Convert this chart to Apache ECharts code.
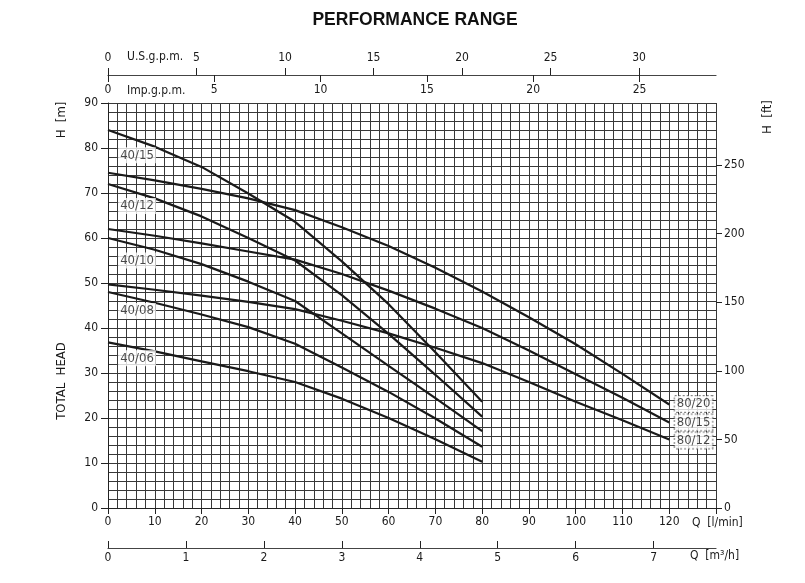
<!DOCTYPE html>
<html><head><meta charset="utf-8">
<script src="https://cdn.jsdelivr.net/npm/echarts@6/dist/echarts.min.js"></script>
<style>html,body{margin:0;padding:0;background:#fff}#c{width:805px;height:583px}</style>
</head><body><div id="c"></div>
<script>
// Flow rates (l/min) at which heads are read
const flowLmin = [0,10,20,30,40,50,60,70,80,90,100,110,120];
// Head (m) for each pump model
const h40_15 = [84,80.3,75.8,69.9,63.6,54.8,45.3,34.6,23.6];
const h40_12 = [72,68.8,64.8,60,55,47.3,38.7,29.6,20.3];
const h40_10 = [60,57.4,54.2,50.3,46,38.8,31.6,24.4,17.1];
const h40_08 = [48,45.6,43,40.2,36.5,31.2,25.8,19.9,13.6];
const h40_06 = [36.8,34.8,32.6,30.4,28,24.3,20,15.3,10.3];
const h80_20 = [74.5,72.8,70.9,68.8,66.2,62.4,58.2,53.4,48.1,42.4,36.4,29.8,23];
const h80_15 = [62,60.5,58.8,57,55.2,52,48.3,44.3,40,35,29.7,24.5,19];
const h80_12 = [49.7,48.5,47.2,45.8,44.2,41.6,38.8,35.6,32.2,28,23.6,19.5,15.2];
const modelNames = ['40/15','40/12','40/10','40/08','40/06','80/20','80/15','80/12'];
const modelHeads = [h40_15,h40_12,h40_10,h40_08,h40_06,h80_20,h80_15,h80_12];
// Curve label anchors [Q l/min, H m]
const labelQ40 = 6.2;
const labelH40 = [78.4,67.1,55,43.8,33.3];
const labelQ80 = 125.2;
const labelH80 = [23.1,19,15];
// Axis ranges
const qMax = 130, hMax = 90;
const lpmPerUSgpm = 3.78541, lpmPerImpgpm = 4.54609, lpmPerM3h = 1000/60, mPerFt = 0.3048;

const FONT = "'Liberation Sans Narrow','DejaVu Sans Condensed','Liberation Sans',sans-serif";
const gridLine = {color:'#383838', width:1};
const txt = {fontFamily:FONT, fontSize:12, color:'#1a1a1a'};

const chart = echarts.init(document.getElementById('c'), null, {renderer:'canvas'});

const lineSeries = modelNames.map((name, k) => ({
  name, type:'line', xAxisIndex:0, yAxisIndex:0, symbol:'none', smooth:false,
  lineStyle:{color:'#1a1a1a', width:2.2}, z:3, silent:true,
  data: modelHeads[k].map((h,i) => [flowLmin[i], h])
}));

const labelData40 = labelH40.map((h,i) => [labelQ40, h, modelNames[i]]);
const labelData80 = labelH80.map((h,i) => [labelQ80, h, modelNames[5+i]]);

chart.setOption({
  animation:false,
  grid:{left:108, top:103, width:608, height:405, containLabel:false, outerBoundsMode:'none'},
  xAxis:[
    {type:'value', min:0, max:qMax, interval:10, position:'bottom',
     axisLine:{show:true, onZero:false, lineStyle:{color:'#222', width:1}},
     axisTick:{show:true, length:6, lineStyle:{color:'#222'}},
     axisLabel:{...txt, margin:8, formatter:v => v>120 ? '' : String(v)},
     splitLine:{show:true, lineStyle:gridLine},
     minorTick:{show:false, splitNumber:5},
     minorSplitLine:{show:true, lineStyle:gridLine}},
    {type:'value', min:0, max:qMax/lpmPerUSgpm, interval:5, position:'top', offset:28,
     axisLine:{show:true, onZero:false, lineStyle:{color:'#444', width:1.2}},
     axisTick:{show:true, length:7, lineStyle:{color:'#222'}},
     axisLabel:{...txt, margin:11, showMaxLabel:false},
     splitLine:{show:false}},
    {type:'value', min:0, max:qMax/lpmPerImpgpm, interval:5, position:'top', offset:28,
     axisLine:{show:false, onZero:false},
     axisTick:{show:true, inside:true, length:7, lineStyle:{color:'#222'}},
     axisLabel:{...txt, inside:true, margin:9, showMaxLabel:false},
     splitLine:{show:false}},
    {type:'value', min:0, max:qMax/lpmPerM3h, interval:1, position:'bottom', offset:40,
     axisLine:{show:true, onZero:false, lineStyle:{color:'#444', width:1.2}},
     axisTick:{show:true, inside:true, length:7, lineStyle:{color:'#222'}},
     axisLabel:{...txt, margin:4, showMaxLabel:false},
     splitLine:{show:false}}
  ],
  yAxis:[
    {type:'value', min:0, max:hMax, interval:10, position:'left',
     axisLine:{show:true, onZero:false, lineStyle:{color:'#222'}},
     axisTick:{show:true, length:7, lineStyle:{color:'#222'}},
     axisLabel:{...txt, margin:10},
     splitLine:{show:true, lineStyle:gridLine},
     minorTick:{show:false, splitNumber:5},
     minorSplitLine:{show:true, lineStyle:gridLine}},
    {type:'value', min:0, max:hMax/mPerFt, interval:50, position:'right',
     axisLine:{show:false, onZero:false},
     axisTick:{show:true, length:6, lineStyle:{color:'#222'}},
     axisLabel:{...txt, margin:8, showMaxLabel:false},
     splitLine:{show:false}}
  ],
  series:[
    ...lineSeries,
    {type:'scatter', xAxisIndex:0, yAxisIndex:0, symbolSize:1, z:5, silent:true,
     itemStyle:{color:'rgba(0,0,0,0)'},
     label:{show:true, position:'inside', ...txt, fontSize:13, backgroundColor:'#fff', padding:[2,2,1,2],
            formatter:p => p.value[2]},
     data:labelData40},
    {type:'scatter', xAxisIndex:0, yAxisIndex:0, symbolSize:1, z:5, silent:true,
     itemStyle:{color:'rgba(0,0,0,0)'},
     label:{show:true, position:'inside', ...txt, fontSize:13, backgroundColor:'#fff', padding:[2,2,1,2],
            borderColor:'#666', borderWidth:1, borderType:'dotted',
            formatter:p => p.value[2]},
     data:labelData80}
  ],
  graphic:[
    {type:'text', x:415, y:20, style:{text:'PERFORMANCE RANGE', fontFamily:"'Liberation Sans',Arial,sans-serif", fontWeight:'bold', fontSize:17.5, fill:'#111', textAlign:'center', textVerticalAlign:'middle'}},
    {type:'text', x:127, y:57, style:{text:'U.S.g.p.m.', fontFamily:FONT, fontSize:12, fill:'#1a1a1a', textAlign:'left', textVerticalAlign:'middle'}},
    {type:'text', x:127, y:91, style:{text:'Imp.g.p.m.', fontFamily:FONT, fontSize:12, fill:'#1a1a1a', textAlign:'left', textVerticalAlign:'middle'}},
    {type:'text', x:62, y:120, rotation:Math.PI/2, style:{text:'H  [m]', fontFamily:FONT, fontSize:13, fill:'#1a1a1a', textAlign:'center', textVerticalAlign:'middle'}},
    {type:'text', x:62, y:381, rotation:Math.PI/2, style:{text:'TOTAL  HEAD', fontFamily:FONT, fontSize:13, fill:'#1a1a1a', textAlign:'center', textVerticalAlign:'middle'}},
    {type:'text', x:768, y:117, rotation:Math.PI/2, style:{text:'H  [ft]', fontFamily:FONT, fontSize:13, fill:'#1a1a1a', textAlign:'center', textVerticalAlign:'middle'}},
    {type:'text', x:692, y:523, style:{text:'Q  [l/min]', fontFamily:FONT, fontSize:12, fill:'#1a1a1a', textAlign:'left', textVerticalAlign:'middle'}},
    {type:'text', x:690, y:556, style:{text:'Q  [m³/h]', fontFamily:FONT, fontSize:12, fill:'#1a1a1a', textAlign:'left', textVerticalAlign:'middle'}}
  ]
});
</script></body></html>
